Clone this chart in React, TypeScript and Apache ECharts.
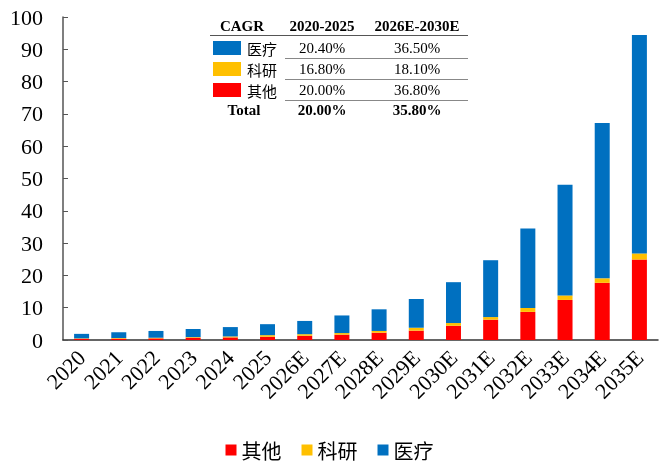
import React, { useEffect, useRef } from "react";
import * as echarts from "echarts";

const years = ["2020", "2021", "2022", "2023", "2024", "2025", "2026E", "2027E", "2028E", "2029E", "2030E", "2031E", "2032E", "2033E", "2034E", "2035E"];
const otherVals = [0.35, 0.4, 0.5, 0.7, 0.8, 1.0, 1.3, 1.65, 2.25, 2.9, 4.4, 6.3, 8.7, 12.4, 17.7, 24.9];
const researchVals = [0.15, 0.2, 0.2, 0.2, 0.3, 0.5, 0.5, 0.5, 0.55, 0.9, 0.85, 0.8, 1.2, 1.4, 1.4, 1.9];
const medicalVals = [1.4, 1.8, 2.1, 2.5, 2.9, 3.4, 4.1, 5.45, 6.7, 8.9, 12.65, 17.6, 24.6, 34.3, 48.1, 67.6];

const tableHeader = ["CAGR", "2020-2025", "2026E-2030E"];
const tableRowNames = ["医疗", "科研", "其他"];
const tableRowColors = ["#0070C0", "#FFC000", "#FF0000"];
const tableCol1 = ["20.40%", "16.80%", "20.00%"];
const tableCol2 = ["36.50%", "18.10%", "36.80%"];
const totalRow = ["Total", "20.00%", "35.80%"];

const SERIF = "'Liberation Serif', 'Times New Roman', serif";
const CJK = "'Noto Sans CJK SC', sans-serif";

export default function App() {
  const ref = useRef<HTMLDivElement>(null);
  useEffect(() => {
    if (!ref.current) return;
    const chart = echarts.init(ref.current, null, { renderer: "svg" });

    const colX = [242, 322, 417];
    const rowY = [48, 69, 90];
    const graphics: any[] = [];
    tableHeader.forEach((t, i) => {
      graphics.push({
        type: "text", x: colX[i], y: 26,
        style: { text: t, fill: "#000", font: `bold 15px ${SERIF}`, align: "center", verticalAlign: "middle" },
      });
    });
    graphics.push({ type: "line", shape: { x1: 210, y1: 35.5, x2: 468, y2: 35.5 }, style: { stroke: "#555", lineWidth: 1 } });
    tableRowNames.forEach((name, i) => {
      const y = rowY[i];
      graphics.push({ type: "rect", shape: { x: 213, y: y - 7, width: 28, height: 14 }, style: { fill: tableRowColors[i] } });
      graphics.push({ type: "text", x: 247, y, style: { text: name, fill: "#000", font: `15px ${CJK}`, align: "left", verticalAlign: "middle" } });
      graphics.push({ type: "text", x: colX[1], y, style: { text: tableCol1[i], fill: "#000", font: `15px ${SERIF}`, align: "center", verticalAlign: "middle" } });
      graphics.push({ type: "text", x: colX[2], y, style: { text: tableCol2[i], fill: "#000", font: `15px ${SERIF}`, align: "center", verticalAlign: "middle" } });
      const ly = y + 10.5;
      graphics.push({ type: "line", shape: { x1: 285, y1: ly, x2: 468, y2: ly }, style: { stroke: "#888", lineWidth: 1 } });
    });
    totalRow.forEach((t, i) => {
      graphics.push({
        type: "text", x: i === 0 ? 244 : colX[i], y: 110,
        style: { text: t, fill: "#000", font: `bold 15px ${SERIF}`, align: "center", verticalAlign: "middle" },
      });
    });

    const option: any = {
      animation: false,
      grid: { left: 63, right: 1, top: 17, bottom: 125, containLabel: false },
      legend: {
        data: ["其他", "科研", "医疗"],
        top: 436,
        left: "center",
        padding: 2,
        itemWidth: 11,
        itemHeight: 11,
        itemGap: 20,
        icon: "rect",
        textStyle: { fontFamily: CJK, fontSize: 20, color: "#000", lineHeight: 24 },
      },
      xAxis: {
        type: "category",
        data: years,
        boundaryGap: true,
        axisLine: { lineStyle: { color: "#333", width: 1.5 } },
        axisTick: { inside: true, length: 5, alignWithLabel: false, lineStyle: { color: "#333" } },
        axisLabel: { rotate: 45, fontFamily: SERIF, fontSize: 22, color: "#000", margin: 14, interval: 0 },
      },
      yAxis: {
        type: "value",
        min: 0,
        max: 100,
        interval: 10,
        axisLine: { show: true, lineStyle: { color: "#555", width: 1.5 } },
        axisTick: { show: true, inside: true, length: 5, lineStyle: { color: "#555" } },
        splitLine: { show: false },
        axisLabel: { fontFamily: SERIF, fontSize: 22, color: "#000", margin: 20 },
      },
      series: [
        { name: "其他", type: "bar", stack: "total", data: otherVals, barWidth: 15, itemStyle: { color: "#FF0000" } },
        { name: "科研", type: "bar", stack: "total", data: researchVals, barWidth: 15, itemStyle: { color: "#FFC000" } },
        { name: "医疗", type: "bar", stack: "total", data: medicalVals, barWidth: 15, itemStyle: { color: "#0070C0" } },
      ],
      graphic: graphics,
    };
    chart.setOption(option);
    return () => chart.dispose();
  }, []);
  return <div ref={ref} style={{ position: "fixed", left: 0, top: 0, width: 659, height: 465 }} />;
}
